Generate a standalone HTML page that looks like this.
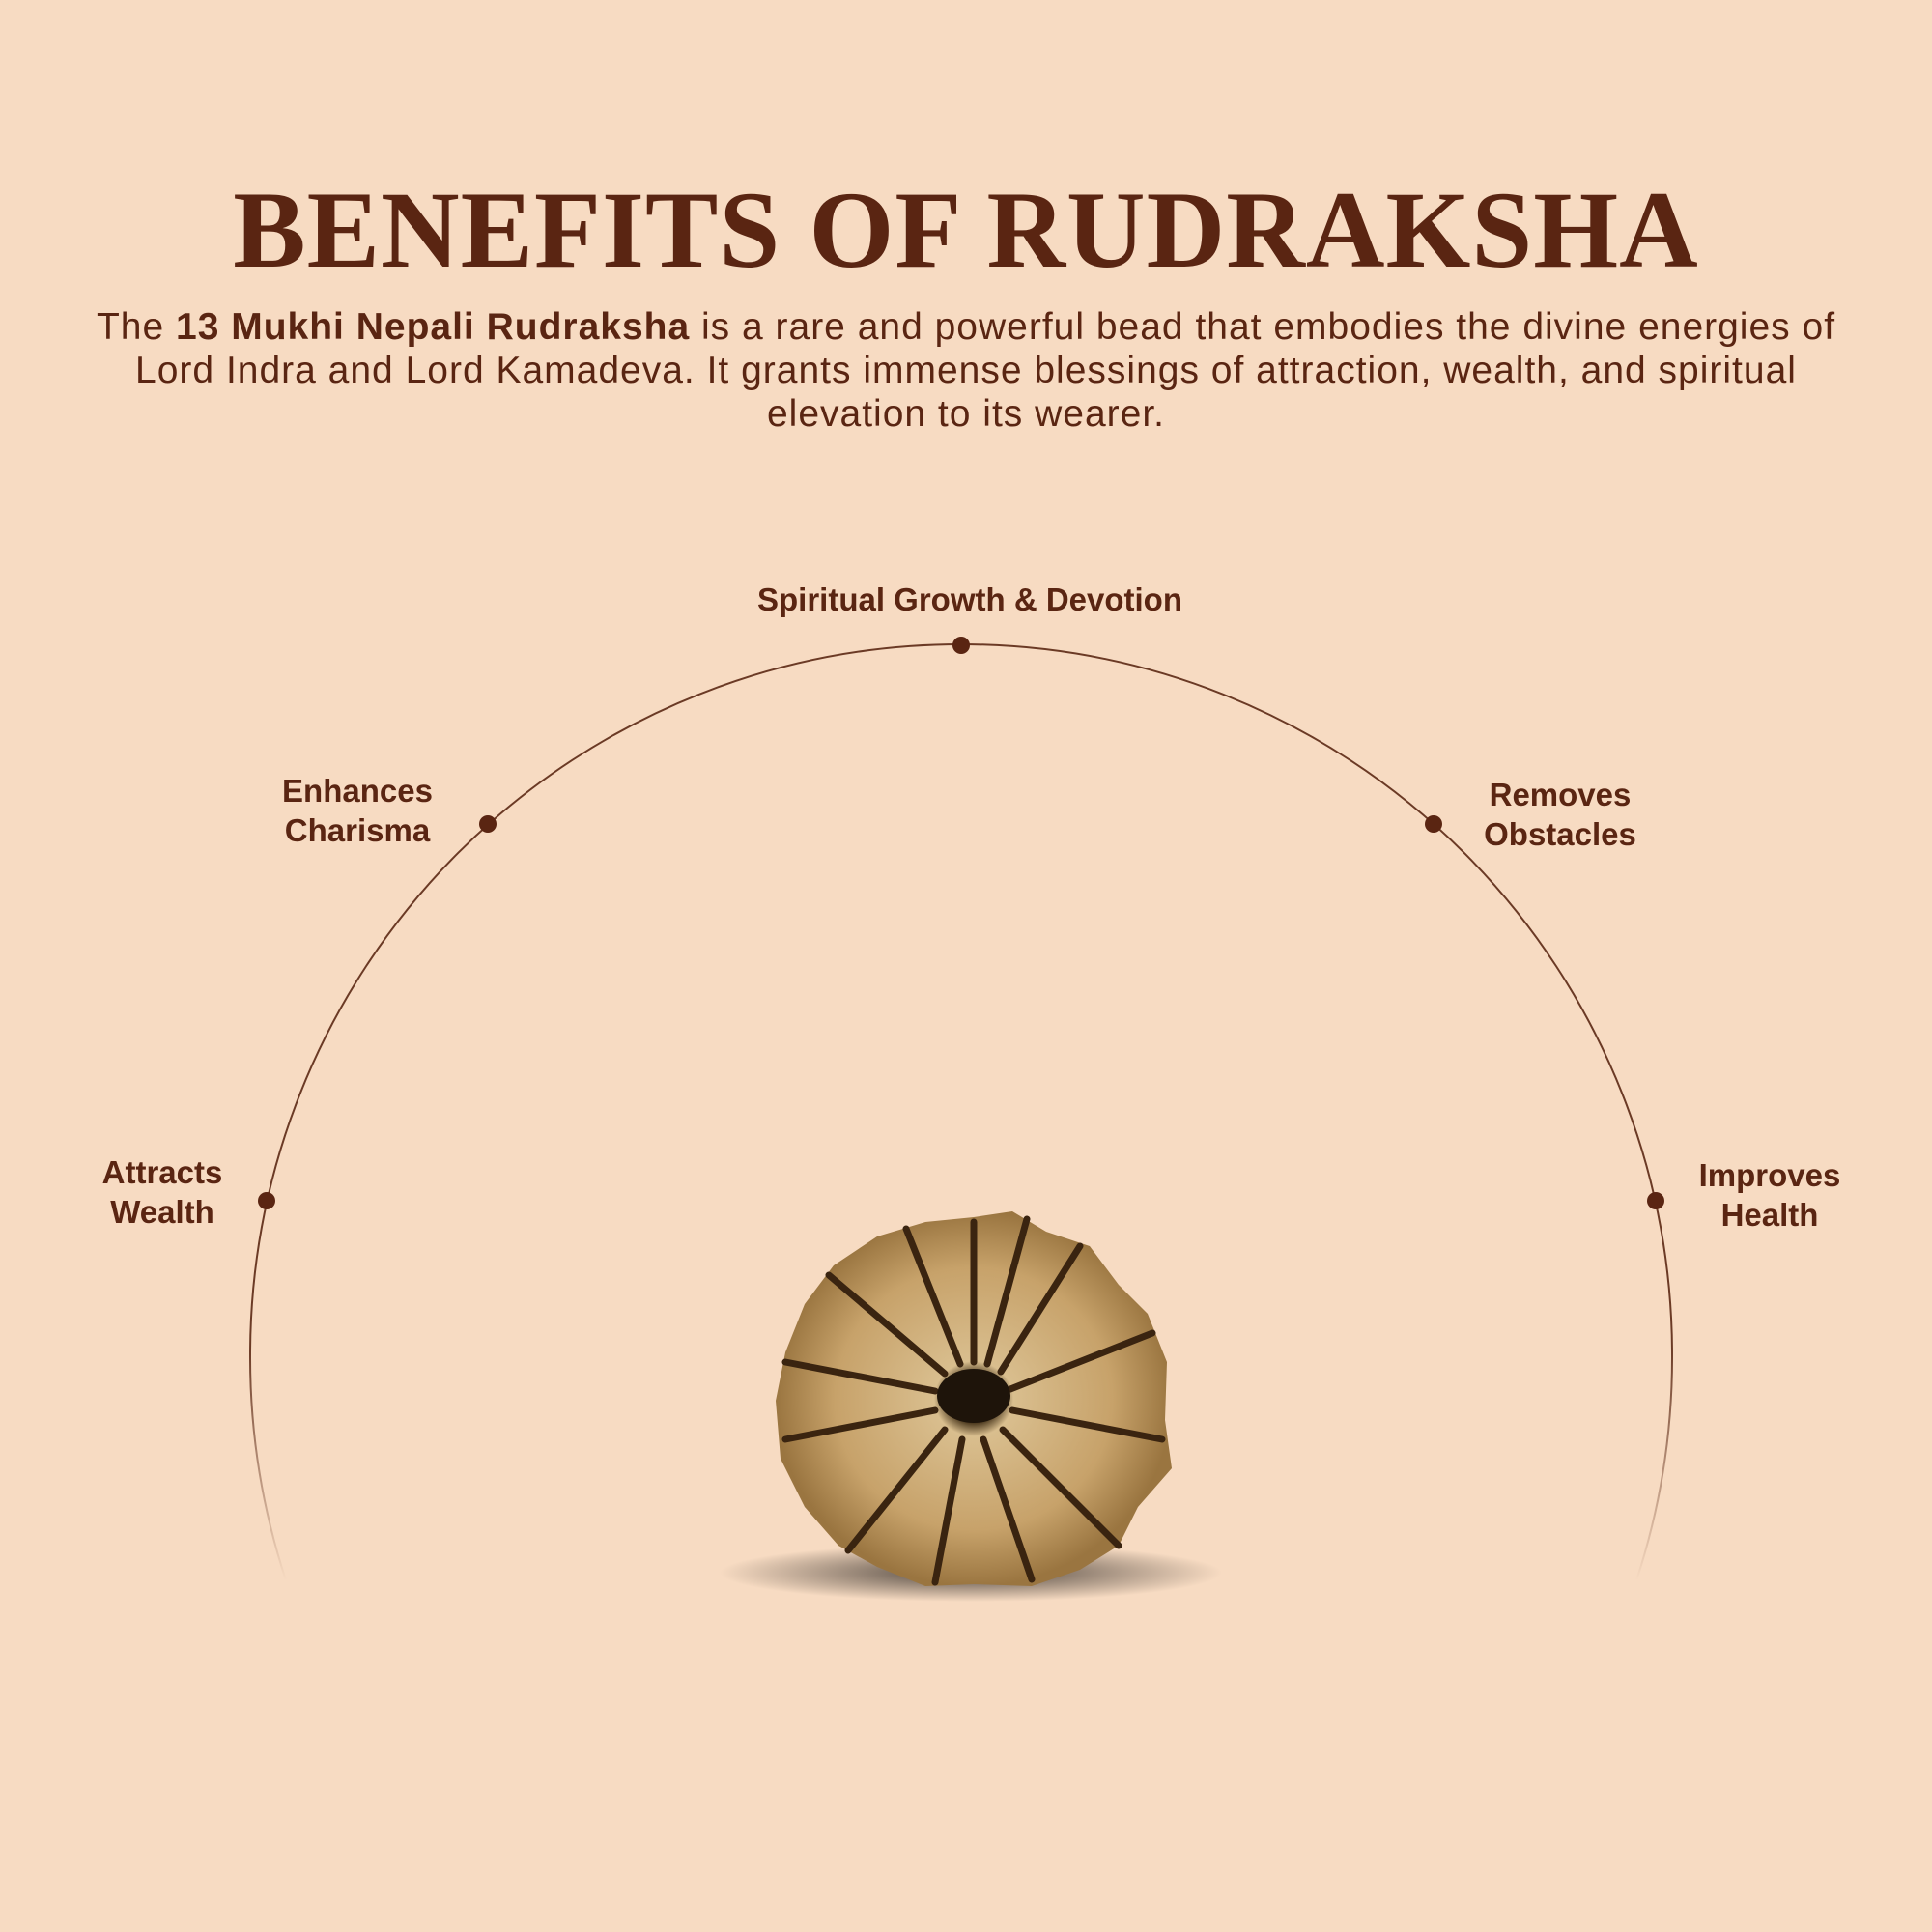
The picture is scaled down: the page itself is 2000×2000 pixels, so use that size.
<!DOCTYPE html>
<html><head><meta charset="utf-8"><style>
html,body{margin:0;padding:0;background:#f7dbc2;}
.wrap{position:relative;width:2000px;height:2000px;overflow:hidden;background:#f7dbc2;font-family:"Liberation Sans",sans-serif;color:#5a2512;}
h1{position:absolute;left:0;width:2000px;top:164px;margin:0;text-align:center;font-family:"Liberation Serif",serif;font-weight:bold;font-size:113px;letter-spacing:1px;line-height:150px;color:#5a2512;}
.p{position:absolute;left:20px;width:1960px;top:316px;text-align:center;font-size:39px;letter-spacing:1px;line-height:45px;color:#5a2512;}
.l{position:absolute;font-weight:bold;font-size:33px;line-height:41px;text-align:center;color:#5a2512;}
</style></head><body><div class="wrap">
<h1>BENEFITS OF RUDRAKSHA</h1>
<div class="p">The <b>13 Mukhi Nepali Rudraksha</b> is a rare and powerful bead that embodies the divine energies of<br>Lord Indra and Lord Kamadeva. It grants immense blessings of attraction, wealth, and spiritual<br>elevation to its wearer.</div>
<svg width="2000" height="2000" style="position:absolute;left:0;top:0">
<defs>
<linearGradient id="fade" x1="0" y1="0" x2="0" y2="1"><stop offset="0.75" stop-color="#6b3a25" stop-opacity="1"/><stop offset="1" stop-color="#6b3a25" stop-opacity="0"/></linearGradient>
<radialGradient id="bead" cx="0.5" cy="0.5" r="0.5"><stop offset="0" stop-color="#2a1a0a"/><stop offset="0.12" stop-color="#3a2810"/><stop offset="0.2" stop-color="#d9be8e"/><stop offset="0.7" stop-color="#c7a26a"/><stop offset="1" stop-color="#9a7540"/></radialGradient>
<radialGradient id="sh" cx="0.5" cy="0.5" r="0.5"><stop offset="0" stop-color="#000" stop-opacity="0.7"/><stop offset="1" stop-color="#000" stop-opacity="0"/></radialGradient>
</defs>
<path d="M 296 1636 A 736 736 0 0 1 259 1403 A 736 736 0 0 1 1731 1403 A 736 736 0 0 1 1694 1636" fill="none" stroke="url(#fade)" stroke-width="2"/>
<g fill="#5a2512"><circle cx="995" cy="668" r="9"/><circle cx="505" cy="853" r="9"/><circle cx="1484" cy="853" r="9"/><circle cx="276" cy="1243" r="9"/><circle cx="1714" cy="1243" r="9"/></g>
<ellipse cx="1005" cy="1628" rx="260" ry="30" fill="url(#sh)"/>
<g transform="translate(1008,1450)">
<path d="M0,-190 L40,-196 L75,-175 L120,-160 L150,-120 L180,-90 L200,-40 L198,20 L205,70 L170,110 L150,150 L110,175 L60,192 L0,190 L-50,192 L-100,172 L-140,150 L-175,110 L-200,60 L-205,0 L-195,-50 L-175,-100 L-145,-140 L-100,-170 L-50,-185 Z" fill="url(#bead)"/>
<g stroke="#3a2410" stroke-width="7" stroke-linecap="round">
<line x1="0" y1="-40" x2="0" y2="-185"/><line x1="28" y1="-30" x2="110" y2="-160"/><line x1="38" y1="-12" x2="185" y2="-70"/><line x1="40" y1="10" x2="195" y2="40"/><line x1="30" y1="30" x2="150" y2="150"/><line x1="10" y1="40" x2="60" y2="185"/><line x1="-12" y1="40" x2="-40" y2="188"/><line x1="-30" y1="30" x2="-130" y2="155"/><line x1="-40" y1="10" x2="-195" y2="40"/><line x1="-40" y1="-10" x2="-195" y2="-40"/><line x1="-30" y1="-28" x2="-150" y2="-130"/><line x1="-14" y1="-38" x2="-70" y2="-178"/><line x1="14" y1="-38" x2="55" y2="-188"/>
</g>
<ellipse cx="0" cy="-5" rx="38" ry="28" fill="#1e140a"/>
</g>
</svg>
<div class="l" style="left:704px;width:600px;top:600px">Spiritual Growth &amp; Devotion</div>
<div class="l" style="left:220px;width:300px;top:798px">Enhances<br>Charisma</div>
<div class="l" style="left:1465px;width:300px;top:802px">Removes<br>Obstacles</div>
<div class="l" style="left:18px;width:300px;top:1193px">Attracts<br>Wealth</div>
<div class="l" style="left:1682px;width:300px;top:1196px">Improves<br>Health</div>
</div></body></html>
